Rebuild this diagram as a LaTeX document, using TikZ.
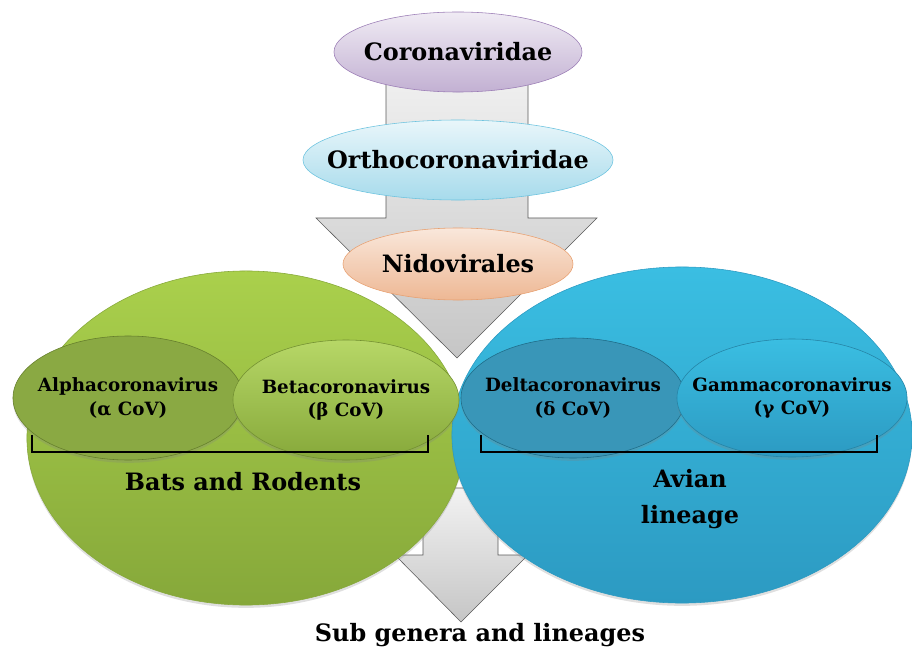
\documentclass[tikz,border=0pt]{standalone}
\usepackage{fontspec}
\setmainfont{DejaVu Serif}
\definecolor{cvpurple}{RGB}{154,124,181}
\definecolor{cvcyan}{RGB}{108,195,223}
\definecolor{cvorange}{RGB}{232,160,112}
\definecolor{cvlime}{RGB}{170,208,76}
\definecolor{cvgreen}{RGB}{134,168,58}
\definecolor{cvsky}{RGB}{58,190,226}
\definecolor{cvblue}{RGB}{44,154,194}
\definecolor{cvgray}{RGB}{90,90,90}
\usetikzlibrary{shapes.geometric,positioning,shadows}

\begin{document}
\begin{tikzpicture}[x=0.025cm,y=-0.025cm,
    bubble/.style={ellipse,inner sep=0pt},
    soft/.style={drop shadow={opacity=0.25,shadow xshift=0pt,shadow yshift=-2pt}},
    lbl/.style={font=\fontsize{17}{20}\selectfont\bfseries,align=center},
    sublbl/.style={font=\fontsize{13}{16.5}\selectfont\bfseries,align=center},
    biglbl/.style={font=\fontsize{17}{25}\selectfont\bfseries,align=center},
    blockarrow/.style={draw=cvgray,top color=gray!10,bottom color=gray!45}]
  \useasboundingbox (0,0) rectangle (912,649);
  % Lower block arrow
  \draw[blockarrow] (423,488) -- (423,555) -- (395,555) -- (461,622)
    -- (528,555) -- (498,555) -- (498,488) -- cycle;
  % Upper block arrow
  \draw[blockarrow] (386,60) -- (386,218) -- (316,218) -- (457,358)
    -- (597,218) -- (528,218) -- (528,60) -- cycle;
  % Bats and rodents
  \node[bubble,soft,draw=cvgreen,top color=cvlime,bottom color=cvgreen,
    minimum width=10.95cm,minimum height=8.35cm] (bats) at (246,438) {};
  % Avian
  \node[bubble,soft,draw=cvblue,top color=cvsky,bottom color=cvblue,
    minimum width=11.5cm,minimum height=8.4cm] (avian) at (682,435) {};
  % Family chain
  \node[bubble,draw=cvpurple,top color=cvpurple!15,bottom color=cvpurple!60,
    minimum width=6.2cm,minimum height=2.0cm] (corona) at (458,52) {};
  \node[lbl] at (corona) {Coronaviridae};
  \node[bubble,draw=cvcyan,top color=cvcyan!15,bottom color=cvcyan!60,
    minimum width=7.75cm,minimum height=2.0cm] (ortho) at (458,160) {};
  \node[lbl] at (ortho) {Orthocoronaviridae};
  \node[bubble,draw=cvorange,top color=cvorange!25,bottom color=cvorange!75,
    minimum width=5.75cm,minimum height=1.8cm] (nido) at (458,264) {};
  \node[lbl] at (nido) {Nidovirales};
  % Genera, green side
  \node[bubble,soft,draw=cvgreen!75!black,fill=cvgreen!85!cvlime!90!gray,
    minimum width=5.75cm,minimum height=3.1cm] (alpha) at (128,398) {};
  \node[sublbl] at (alpha) {Alphacoronavirus\\(α CoV)};
  \node[bubble,soft,draw=cvgreen!85!black,top color=cvlime!85!white,bottom color=cvgreen,
    minimum width=5.65cm,minimum height=3.0cm] (beta) at (346,400) {};
  \node[sublbl] at (beta) {Betacoronavirus\\(β CoV)};
  % Genera, blue side
  \node[bubble,soft,draw=cvblue!70!black,fill=cvblue!85!gray,
    minimum width=5.6cm,minimum height=3.0cm] (delta) at (573,398) {};
  \node[sublbl] at (delta) {Deltacoronavirus\\(δ CoV)};
  \node[bubble,soft,draw=cvblue!85!black,top color=cvsky,bottom color=cvblue,
    minimum width=5.75cm,minimum height=2.95cm] (gamma) at (792,398) {};
  \node[sublbl] at (gamma) {Gammacoronavirus\\(γ CoV)};
  % Brackets
  \draw[very thick] (32,435) -- (32,452) -- (428,452) -- (428,435);
  \draw[very thick] (481,435) -- (481,452) -- (877,452) -- (877,435);
  % Group labels
  \node[biglbl] (batslbl) at (243,482) {Bats and Rodents};
  \node[biglbl] (avianlbl) at (690,499) {Avian\\lineage};
  \node[lbl] (subgen) at (480,635) {Sub genera and lineages};
\end{tikzpicture}
\end{document}
